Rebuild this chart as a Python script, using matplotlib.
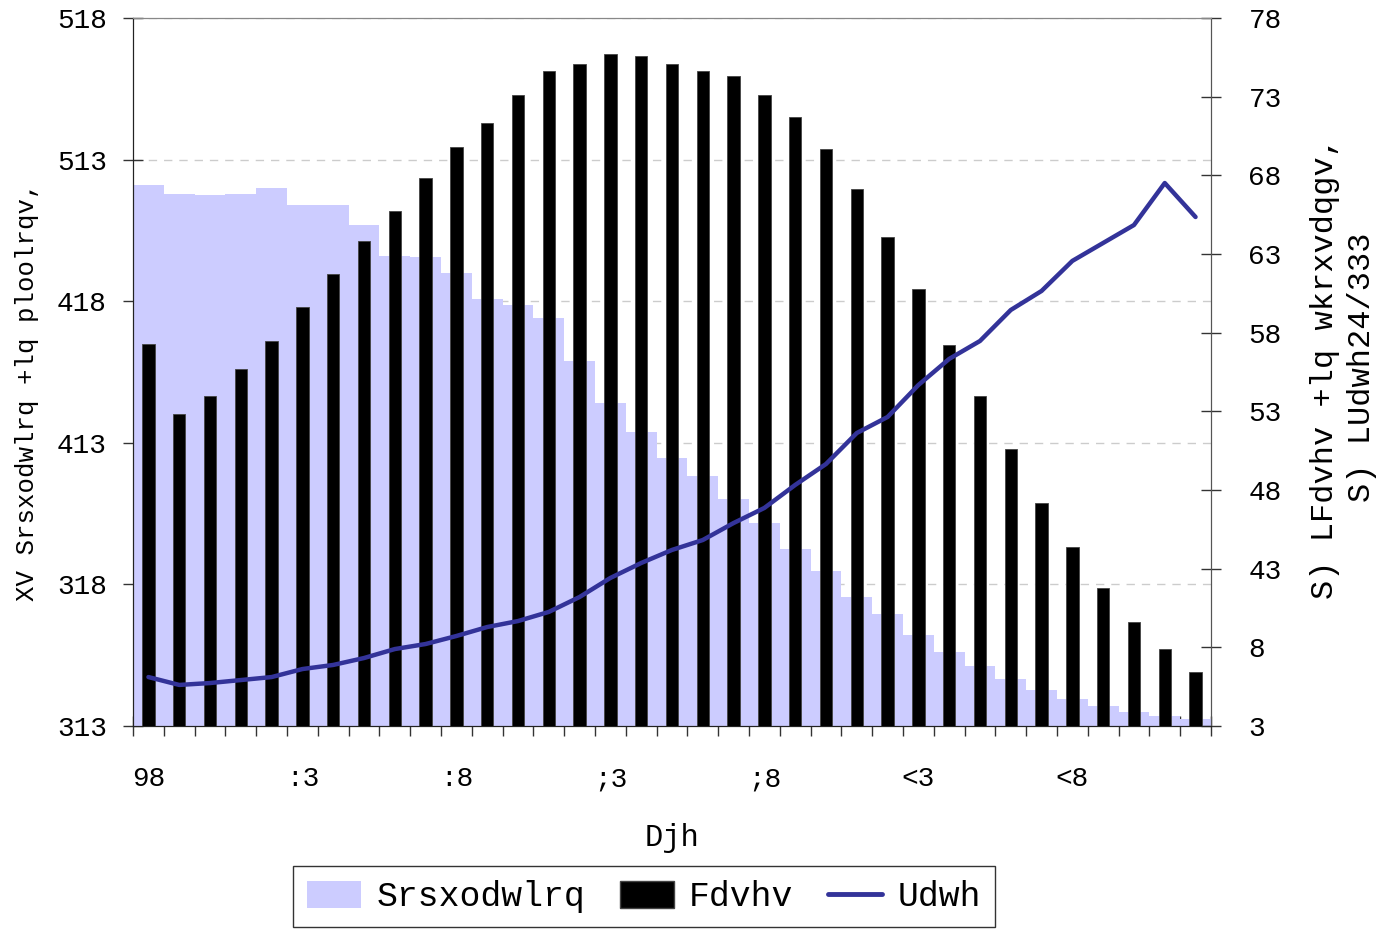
import numpy as np
import matplotlib.pyplot as plt
from matplotlib.patches import Patch
from matplotlib.lines import Line2D
from matplotlib.ticker import FixedLocator

plt.rcParams['font.family'] = ['Liberation Mono', 'DejaVu Sans Mono']

ages = list(range(65, 100))

# population (millions) per single year of age
population = [1.910, 1.879, 1.875, 1.879, 1.900, 1.840, 1.840, 1.769, 1.660, 1.656,
              1.600, 1.508, 1.487, 1.441, 1.289, 1.140, 1.038, 0.946, 0.883, 0.801,
              0.717, 0.625, 0.547, 0.456, 0.395, 0.321, 0.261, 0.212, 0.166, 0.127,
              0.095, 0.071, 0.049, 0.035, 0.025]

# cases (thousands)
cases = [24.3, 19.8, 21.0, 22.7, 24.5, 26.6, 28.7, 30.8, 32.7, 34.8,
         36.8, 38.3, 40.1, 41.6, 42.1, 42.7, 42.6, 42.1, 41.6, 41.3,
         40.1, 38.7, 36.7, 34.1, 31.1, 27.8, 24.2, 21.0, 17.6, 14.2,
         11.4, 8.8, 6.6, 4.9, 3.4]

# rate per 1,000
rate = [3.11, 2.61, 2.73, 2.92, 3.11, 3.62, 3.88, 4.32, 4.89, 5.21,
        5.72, 6.29, 6.67, 7.25, 8.20, 9.41, 10.36, 11.19, 11.82, 12.90,
        13.86, 15.32, 16.65, 18.62, 19.64, 21.67, 23.33, 24.47, 26.44, 27.65,
        29.56, 30.70, 31.84, 34.51, 32.35]

left_ticks = [0.0, 0.5, 1.0, 1.5, 2.0, 2.5]
left_labels = ['313', '318', '413', '418', '513', '518']
right_ticks = [0, 5, 10, 15, 20, 25, 30, 35, 40, 45]
right_labels = ['3', '8', '43', '48', '53', '58', '63', '68', '73', '78']
x_ticks = [65, 70, 75, 80, 85, 90, 95]
x_labels = ['98', ':3', ':8', ';3', ';8', '<3', '<8']

pop_color = '#CCCCFF'
rate_color = '#333399'

fig = plt.figure(figsize=(13.8, 9.31), dpi=100)
ax = fig.add_axes([0.0964, 0.2202, 0.7811, 0.7605])
ax2 = ax.twinx()

ax.bar(ages, population, width=1.0, color=pop_color, linewidth=0, zorder=2)
ax2.bar(ages, cases, width=0.4, color='black', edgecolor='#444444', linewidth=0.6, zorder=3)
ax2.plot(ages, rate, color=rate_color, linewidth=3.2, solid_capstyle='round',
         solid_joinstyle='round', zorder=4)

ax.set_xlim(64.5, 99.5)
ax.set_ylim(0, 2.5)
ax2.set_ylim(0, 45)

ax.set_axisbelow(True)
ax.yaxis.grid(True, linestyle=(0, (6, 5)), color='#CCCCCC', linewidth=1.0)

ax.set_yticks(left_ticks)
ax.set_yticklabels(left_labels, fontsize=20)
ax2.set_yticks(right_ticks)
ax2.set_yticklabels(right_labels, fontsize=20)
ax.set_xticks(x_ticks)
ax.set_xticklabels(x_labels, fontsize=20)
ax.xaxis.set_minor_locator(FixedLocator(np.arange(64.5, 100, 1.0)))

ax.tick_params(axis='x', which='major', length=0, pad=29)
ax.tick_params(axis='x', which='minor', direction='inout', length=14, width=1, color='#333333')
ax.tick_params(axis='y', direction='inout', length=14, width=1, color='#333333', pad=12)
ax2.tick_params(axis='y', direction='inout', length=14, width=1, color='#333333', pad=20)

for a in (ax, ax2):
    a.spines['top'].set_color('#888888')
    a.spines['right'].set_color('#555555')
    a.spines['left'].set_color('#222222')
    a.spines['bottom'].set_color('#222222')

ax.set_xlabel('Djh', fontsize=22, labelpad=22)
ax.set_ylabel('XV Srsxodwlrq +lq ploolrqv,', fontsize=18.5, va='center')
ax.yaxis.set_label_coords(-0.098, 0.472)
ax2.set_ylabel('S) LFdvhv +lq wkrxvdqgv,\nS) LUdwh24/333', fontsize=23,
               rotation=90, va='center', multialignment='center', linespacing=1.3)
ax2.yaxis.set_label_coords(1.1226, 0.506)

handles = [Patch(facecolor=pop_color, edgecolor='none'),
           Patch(facecolor='black', edgecolor='#444444'),
           Line2D([0], [0], color=rate_color, linewidth=3.5, solid_capstyle='round')]
leg = fig.legend(handles, ['Srsxodwlrq', 'Fdvhv', 'Udwh'], loc='lower center',
                 bbox_to_anchor=(0.4667, 0.004), ncol=3, fontsize=25, frameon=True,
                 fancybox=False, edgecolor='black', handlelength=1.55, handleheight=0.8,
                 handletextpad=0.45, columnspacing=1.0, borderpad=0.4, borderaxespad=0)
leg.get_frame().set_linewidth(1.0)

fig.savefig('out.png', dpi=100)
